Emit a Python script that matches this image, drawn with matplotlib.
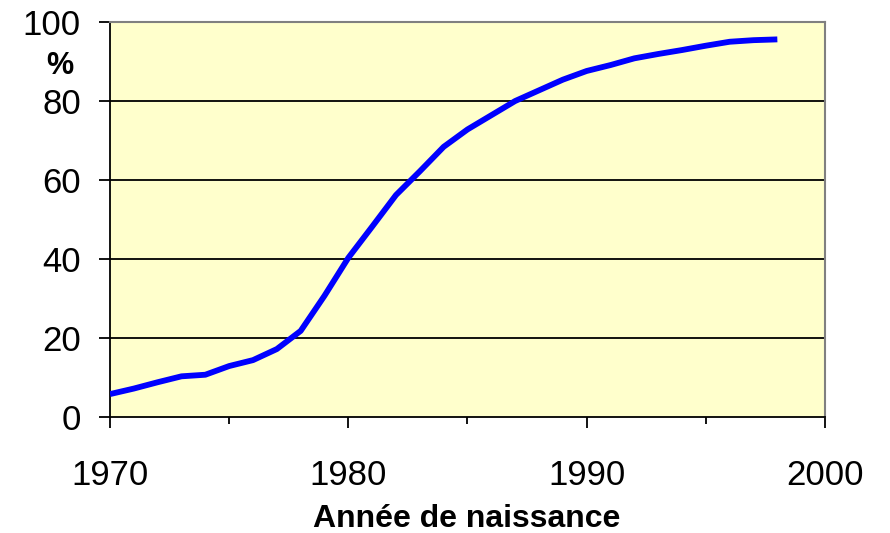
import numpy as np
import matplotlib.pyplot as plt
from matplotlib.ticker import MultipleLocator

# annee de naissance et part en %
annees = [1970, 1971, 1972, 1973, 1974, 1975, 1976, 1977, 1978, 1979,
          1980, 1981, 1982, 1983, 1984, 1985, 1986, 1987, 1988, 1989,
          1990, 1991, 1992, 1993, 1994, 1995, 1996, 1997, 1998]
pourcent = [5.8, 7.2, 8.8, 10.3, 10.7, 12.9, 14.4, 17.2, 21.8, 30.7,
            40.3, 48.2, 56.2, 62.2, 68.4, 72.8, 76.4, 80.0, 82.7, 85.4,
            87.6, 89.1, 90.8, 91.9, 92.9, 94.0, 95.0, 95.4, 95.6]
yticks = [0, 20, 40, 60, 80, 100]
xticks = [1970, 1980, 1990, 2000]

plt.rcParams['font.family'] = ['Liberation Sans', 'DejaVu Sans']

fig = plt.figure(figsize=(8.9, 5.33), dpi=100)
ax = fig.add_axes([110/890, 1-417/533, 715/890, 395/533])
ax.set_facecolor('#FFFFCC')

for y in yticks[1:-1]:
    ax.axhline(y, color='black', lw=1.3, zorder=1)

ax.plot(annees, pourcent, color='#0000FF', lw=4.2, solid_capstyle='butt', zorder=3)

ax.set_xlim(1970, 2000)
ax.set_ylim(0, 100)
ax.set_xticks(xticks)
ax.xaxis.set_minor_locator(MultipleLocator(5))
ax.set_yticks(yticks)
ax.tick_params(axis='y', which='major', labelsize=25, length=8, width=1.3,
               direction='out', color='black', pad=13)
ax.tick_params(axis='x', which='major', labelsize=25, length=8, width=1.3,
               direction='out', color='black', pad=22)
ax.tick_params(axis='x', which='minor', length=5, width=1.3)

ax.spines['left'].set_color('black')
ax.spines['bottom'].set_color('black')
ax.spines['left'].set_linewidth(1.3)
ax.spines['bottom'].set_linewidth(1.3)
ax.spines['top'].set_color('#808080')
ax.spines['right'].set_color('#808080')
ax.spines['top'].set_linewidth(1.5)
ax.spines['right'].set_linewidth(1.5)

fig.text(467/890, 1-519/533, 'Année de naissance', fontsize=23, fontweight='bold',
         ha='center', va='center')
fig.text(60/890, 1-66/533, '%', fontsize=22, fontweight='bold', ha='center', va='center')

fig.savefig('out.png', dpi=100)
